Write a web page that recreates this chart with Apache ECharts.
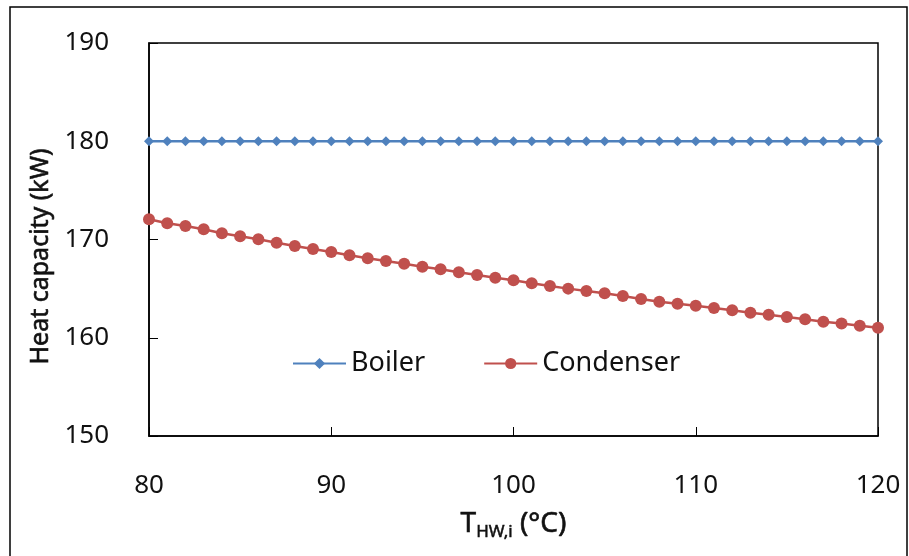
<!DOCTYPE html>
<html><head><meta charset="utf-8">
<script src="https://cdn.jsdelivr.net/npm/echarts@6/dist/echarts.min.js"></script>
<style>html,body{margin:0;padding:0;background:#fff}#c{width:909px;height:556px}</style>
</head><body><div id="c"></div>
<script>
const temps = [];
for (let t = 80; t <= 120; t++) temps.push(t);
const boiler = [180,180,180,180,180,180,180,180,180,180,180,180,180,180,180,180,180,180,180,180,180,180,180,180,180,180,180,180,180,180,180,180,180,180,180,180,180,180,180,180,180];
const condenser = [172.06,171.65,171.37,171.04,170.63,170.33,170.02,169.67,169.34,169.03,168.73,168.39,168.09,167.81,167.54,167.23,166.97,166.66,166.39,166.11,165.85,165.54,165.27,165.00,164.76,164.52,164.24,163.94,163.67,163.47,163.26,163.03,162.79,162.55,162.35,162.11,161.88,161.63,161.45,161.23,161.02];
const seriesNames = ['Boiler','Condenser'];
const yTicks = [150,160,170,180,190];
const xTicks = [80,90,100,110,120];

const FONT = 'Noto Sans';
const TXT = '#111';
const chart = echarts.init(document.getElementById('c'), null, {renderer:'canvas'});
chart.setOption({
  animation:false,
  backgroundColor:'#fff',
  textStyle:{fontFamily:FONT},
  graphic:[{type:'rect',shape:{x:10,y:7,width:897,height:560},style:{fill:'none',stroke:'#000',lineWidth:1.5},silent:true}],
  grid:{left:149,right:31,top:43,bottom:120,show:true,borderColor:'#000',borderWidth:1.5,backgroundColor:'transparent'},
  legend:{
    data:seriesNames,left:287,top:345,itemWidth:53,itemHeight:14,itemGap:58,
    textStyle:{fontSize:27,color:TXT,fontFamily:FONT}
  },
  xAxis:{type:'value',min:xTicks[0],max:xTicks[xTicks.length-1],interval:10,
    axisLine:{show:true,lineStyle:{color:'#000',width:1.5}},
    axisTick:{show:true,inside:true,length:9,lineStyle:{color:'#000',width:1}},
    axisLabel:{fontSize:26,color:TXT,margin:37,fontFamily:FONT},
    splitLine:{show:false},
    name:'{a|T}{b|HW,i}{a| (°C)}',nameLocation:'middle',nameGap:72,
    nameTextStyle:{rich:{
      a:{fontSize:28,color:TXT,fontFamily:FONT,textBorderColor:TXT,textBorderWidth:0.6},
      b:{fontSize:17,color:TXT,fontFamily:FONT,textBorderColor:TXT,textBorderWidth:0.5,padding:[16,0,0,0]}}}
  },
  yAxis:{type:'value',min:yTicks[0],max:yTicks[yTicks.length-1],interval:10,
    axisLine:{show:true,lineStyle:{color:'#000',width:1.5}},
    axisTick:{show:true,inside:true,length:9,lineStyle:{color:'#000',width:1}},
    axisLabel:{fontSize:26,color:TXT,margin:40,fontFamily:FONT},
    splitLine:{show:false},
    name:'Heat capacity (kW)',nameLocation:'middle',nameGap:94,
    nameTextStyle:{fontSize:25,color:TXT,fontFamily:FONT,textBorderColor:TXT,textBorderWidth:0.6,padding:[0,34,0,0]}
  },
  series:[
    {name:seriesNames[0],type:'line',data:temps.map((t,i)=>[t,boiler[i]]),symbol:'diamond',symbolSize:10,
      itemStyle:{color:'#4F81BD'},lineStyle:{color:'#4F81BD',width:2.5}},
    {name:seriesNames[1],type:'line',data:temps.map((t,i)=>[t,condenser[i]]),symbol:'circle',symbolSize:12,
      itemStyle:{color:'#C0504D'},lineStyle:{color:'#C0504D',width:2.5}}
  ]
});
</script></body></html>
